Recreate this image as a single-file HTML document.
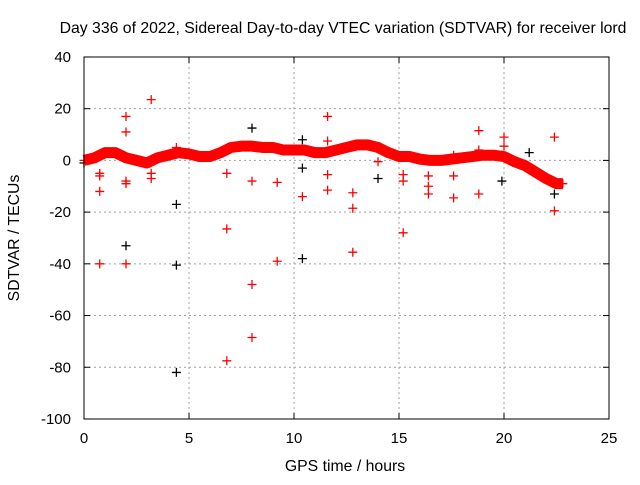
<!DOCTYPE html>
<html><head><meta charset="utf-8"><style>
body{margin:0;background:#fff}
svg text{font-family:"Liberation Sans",Arial,sans-serif;fill:#000}
</style></head><body>
<svg id="c" width="640" height="480" xmlns="http://www.w3.org/2000/svg">
<text x="343" y="33" font-size="15.8" text-anchor="middle">Day 336 of 2022, Sidereal Day-to-day VTEC variation (SDTVAR) for receiver lord</text>
<text x="345" y="471" font-size="15.8" text-anchor="middle">GPS time / hours</text>
<text x="0" y="0" font-size="15.8" text-anchor="middle" transform="translate(19,238) rotate(-90)">SDTVAR / TECUs</text>
<g id="grid"></g><g id="marks"></g>
<rect x="84" y="57" width="525" height="362" fill="none" stroke="#000"/>
</svg>
<script>
const xTicks=[0,5,10,15,20,25];
const yTicks=[40,20,0,-20,-40,-60,-80,-100];
const bandHours=[0,0.5,1,1.5,2,2.5,3,3.5,4,4.5,5,5.5,6,6.5,7,7.5,8,8.5,9,9.5,10,10.5,11,11.5,12,12.5,13,13.5,14,14.5,15,15.5,16,16.5,17,17.5,18,18.5,19,19.5,20,20.5,21,21.5,22,22.5,22.8];
const bandValues=[0,1,3,3,1,0,-1,1,2,3,2.5,1.5,1.5,3,5,5.5,5.5,5,5,4,4,4,3,3,4,5,6,6,5,3,1.5,1.5,0.5,0,0,0.5,1,1.5,2,2,1.5,-0.5,-2,-4.5,-7,-9,-9];
const redHours=[0.75,0.75,0.75,0.75,2,2,2,2,2,3.2,3.2,3.2,4.4,6.8,6.8,6.8,8,8,8,9.2,9.2,10.4,11.6,11.6,11.6,11.6,12.8,12.8,12.8,14,15.2,15.2,15.2,16.4,16.4,16.4,17.6,17.6,17.6,18.8,18.8,18.8,20,20,22.4,22.4];
const redValues=[-5,-6,-12,-40,17,11,-8,-9,-40,23.5,-5,-7,5,-5,-26.5,-77.5,-8,-48,-68.5,-8.5,-39,-14,17,7.5,-5.5,-11.5,-12.5,-18.5,-35.5,-0.5,-5.5,-8,-28,-6,-10,-13,2,-6,-14.5,11.5,4,-13,9,5.5,9,-19.5];
const blackHours=[2,4.4,4.4,4.4,8,10.4,10.4,10.4,14,19.9,21.2,22.4,0];
const blackValues=[-33,-17,-40.5,-82,12.5,8,-3,-38,-7,-8,3,-13,-1];
const X=h=>84+h*21, Y=v=>160.4-v*2.5857;
const NS="http://www.w3.org/2000/svg";
const g=document.getElementById('grid'), m=document.getElementById('marks');
function mk(t,a,p){const e=document.createElementNS(NS,t);for(const k in a)e.setAttribute(k,a[k]);p.appendChild(e);return e;}
xTicks.forEach(t=>{const x=X(t);
 if(t>0&&t<25){const l=mk('line',{x1:x,x2:x,y1:57,y2:419,stroke:'#a0a0a0','stroke-dasharray':'2,3'},g);}
 mk('line',{x1:x,x2:x,y1:419,y2:413,stroke:'#000'},g);mk('line',{x1:x,x2:x,y1:57,y2:63,stroke:'#000'},g);
 const tx=mk('text',{x:x,y:443,'font-size':15,'text-anchor':'middle'},g);tx.textContent=t;
 });
yTicks.forEach(t=>{const y=Y(t);
 if(t<40&&t>-100){const l=mk('line',{x1:84,x2:609,y1:y,y2:y,stroke:'#a0a0a0','stroke-dasharray':'2,3'},g);}
 mk('line',{x1:84,x2:90,y1:y,y2:y,stroke:'#000'},g);mk('line',{x1:609,x2:603,y1:y,y2:y,stroke:'#000'},g);
 const tx=mk('text',{x:71,y:y+5,'font-size':15,'text-anchor':'end'},g);tx.textContent=t;
 });
function cross(h,v,col,name){const x=X(h),y=Y(v);
 const p=mk('path',{d:`M${x-4.5},${y}h9M${x},${y-4.5}v9`,stroke:col,'stroke-width':1.3},m);
 }
blackHours.forEach((h,i)=>cross(h,blackValues[i],'#000','black-point'));
const band=mk('polyline',{points:bandHours.map((h,i)=>X(h)+','+Y(bandValues[i])).join(' '),fill:'none',stroke:'#f00','stroke-width':11,'stroke-linejoin':'round'},m);

bandHours.forEach((h,i)=>cross(h,bandValues[i],'#f00','band-point'));
redHours.forEach((h,i)=>cross(h,redValues[i],'#f00','outlier-point'));
</script>
</body></html>
